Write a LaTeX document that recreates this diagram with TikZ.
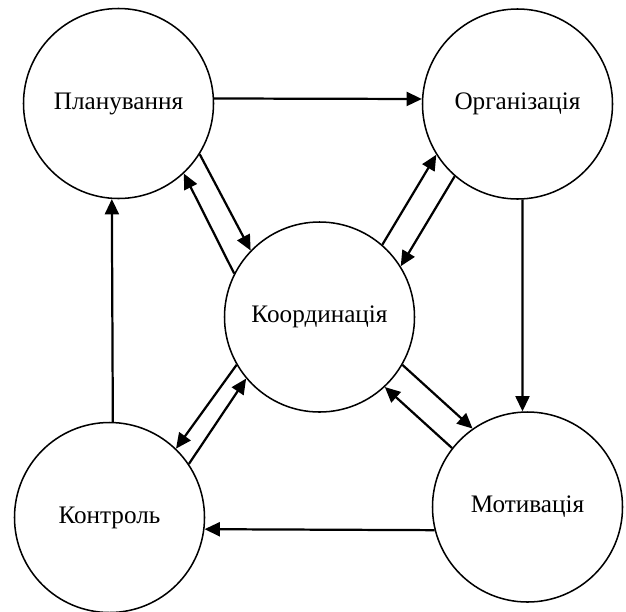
\documentclass[tikz,border=0pt]{standalone}
\usepackage{fontspec}
\setmainfont{Liberation Serif}
\usetikzlibrary{arrows.meta}

\begin{document}
\begin{tikzpicture}[x=0.03cm, y=-0.03cm,
	stage/.style={circle, draw, line width=1.3pt, minimum size=5.7cm, inner sep=0pt,
		font=\fontsize{21.5}{26}\selectfont},
	link/.style={line width=1.9pt, -{Triangle[length=0.46cm, width=0.42cm]}}]
	\useasboundingbox (0,0) rectangle (626,611);

	% Define nodes
	\node [stage] (plan)  at (118.5,103.5) {Планування};
	\node [stage] (org)   at (517.5,104)   {Організація};
	\node [stage] (coord) at (319.5,317)   {Координація};
	\node [stage] (ctrl)  at (109.5,517.5) {Контроль};
	\node [stage] (mot)   at (527.5,507)   {Мотивація};

	% Draw outer cycle
	\draw [link] (plan.3) -- (org.177);
	\draw [link] (org.-87) -- (mot.93);
	\draw [link] (mot.-166.5) -- (ctrl.-7);
	\draw [link] (ctrl.88.5) -- (plan.-94);

	% Draw links to the centre
	\draw [link] (plan.-32) -- (coord.136.5);
	\draw [link] (coord.153) -- (plan.-47);
	\draw [link] (coord.49) -- (org.-148.5);
	\draw [link] (org.-131.4) -- (coord.32.5);
	\draw [link] (coord.210.6) -- (ctrl.46.7);
	\draw [link] (ctrl.34.8) -- (coord.220.8);
	\draw [link] (coord.-30) -- (mot.125.5);
	\draw [link] (mot.142.6) -- (coord.-47.4);
\end{tikzpicture}
\end{document}
